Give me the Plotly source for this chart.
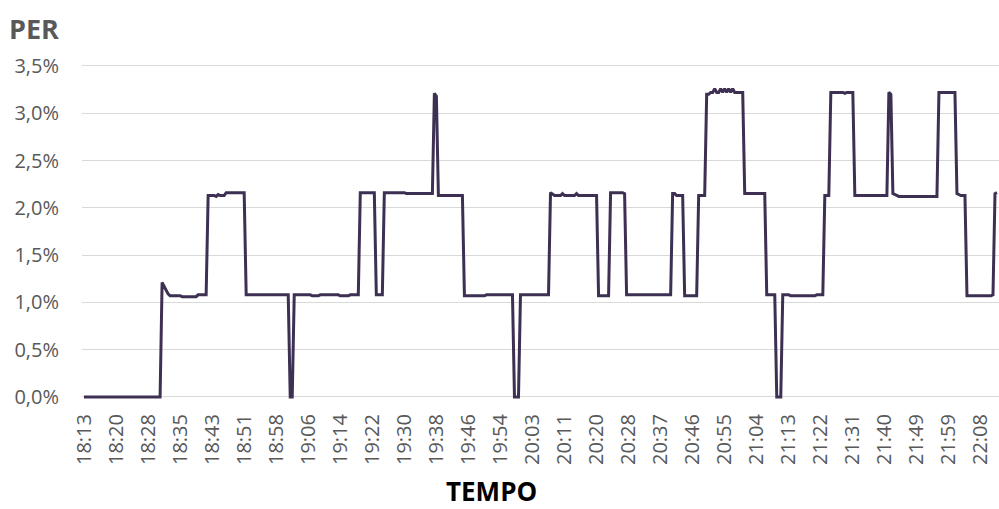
import numpy as np
import plotly.graph_objects as go

# PER (%), stored as run-length segments: (value, number of samples)
seg_values = [0, 1.21, 1.17, 1.13, 1.09, 1.07, 1.06, 1.08, 2.13, 2.12, 2.14, 2.13, 2.16, 1.08, 0,
              1.08, 1.07, 1.08, 1.07, 1.08, 2.16, 1.08, 2.16, 2.15, 3.21, 3.18, 2.13, 1.07, 1.08, 0,
              1.08, 2.16, 2.14, 2.13, 2.15, 2.13, 2.15, 2.13, 1.07, 2.16, 2.15, 1.08, 2.15, 2.13, 1.07,
              2.13, 3.20, 3.22, 3.26, 3.22, 3.26, 3.22, 3.26, 3.22, 3.26, 3.22, 3.26, 3.22, 2.15, 1.08,
              0, 1.08, 1.07, 1.08, 2.13, 3.22, 3.21, 3.22, 2.13, 3.22, 3.20, 2.15, 2.14, 2.13, 2.12,
              3.22, 2.15, 2.14, 2.13, 1.07, 1.08, 2.15, 2.16]
seg_counts = [39, 1, 1, 1, 1, 6, 8, 5, 4, 1, 1, 3, 10, 22, 2,
              9, 4, 10, 5, 5, 8, 4, 11, 14, 1, 1, 13, 11, 14, 3,
              15, 1, 1, 4, 1, 6, 1, 10, 6, 7, 1, 23, 2, 4, 7,
              4, 2, 2, 1, 2, 1, 1, 1, 1, 1, 1, 1, 5, 11, 5,
              3, 4, 13, 4, 3, 7, 1, 4, 17, 1, 1, 1, 1, 1, 20,
              9, 1, 1, 3, 13, 1, 1, 1]

tick_labels = ["18:13", "18:20", "18:28", "18:35", "18:43", "18:51", "18:58", "19:06", "19:14",
               "19:22", "19:30", "19:38", "19:46", "19:54", "20:03", "20:11", "20:20", "20:28",
               "20:37", "20:46", "20:55", "21:04", "21:13", "21:22", "21:31", "21:40", "21:49",
               "21:59", "22:08"]
samples_per_label = 16

y_ticks = [0, 0.5, 1.0, 1.5, 2.0, 2.5, 3.0, 3.5]
y_tick_text = ["0,0%", "0,5%", "1,0%", "1,5%", "2,0%", "2,5%", "3,0%", "3,5%"]

per = np.repeat(seg_values, seg_counts)
idx = np.arange(len(per))
tick_pos = [i * samples_per_label for i in range(len(tick_labels))]

fig = go.Figure()
fig.add_trace(go.Scatter(x=idx, y=per, mode="lines",
                         line=dict(color="#3d3052", width=3), hoverinfo="skip",
                         showlegend=False))

font_family = "Open Sans"
plot_h = 341
fig.update_layout(
    width=999, height=509,
    margin=dict(l=82, r=0, t=61, b=107),
    paper_bgcolor="white", plot_bgcolor="white",
    font=dict(family=font_family, color="#595959"),
    xaxis=dict(range=[-1, len(per)], tickmode="array", tickvals=tick_pos, ticktext=tick_labels,
               tickangle=-90, showgrid=False, zeroline=False, showline=False, ticks="",
               tickfont=dict(size=20, color="#595959"), ticklabelstandoff=7),
    yaxis=dict(range=[-0.0535, 3.552], tickmode="array", tickvals=y_ticks, ticktext=y_tick_text,
               showgrid=True, gridcolor="#d9d9d9", gridwidth=1, zeroline=False, showline=False,
               ticks="", tickfont=dict(size=20, color="#595959"), ticklabelstandoff=22),
    annotations=[
        dict(text="<b>PER</b>", xref="paper", yref="paper", x=0, y=1 + (61 - 28) / plot_h,
             xanchor="left", yanchor="middle", showarrow=False, xshift=-82 + 7,
             font=dict(size=27, color="#595959", family=font_family)),
        dict(text="<b>TEMPO</b>", xref="paper", yref="paper", x=(491 - 82) / 917,
             y=-(491 - 402) / plot_h, xanchor="center", yanchor="middle", showarrow=False,
             borderpad=0, font=dict(size=26, color="#000000", family=font_family)),
    ],
)

fig.write_html("out.html")
